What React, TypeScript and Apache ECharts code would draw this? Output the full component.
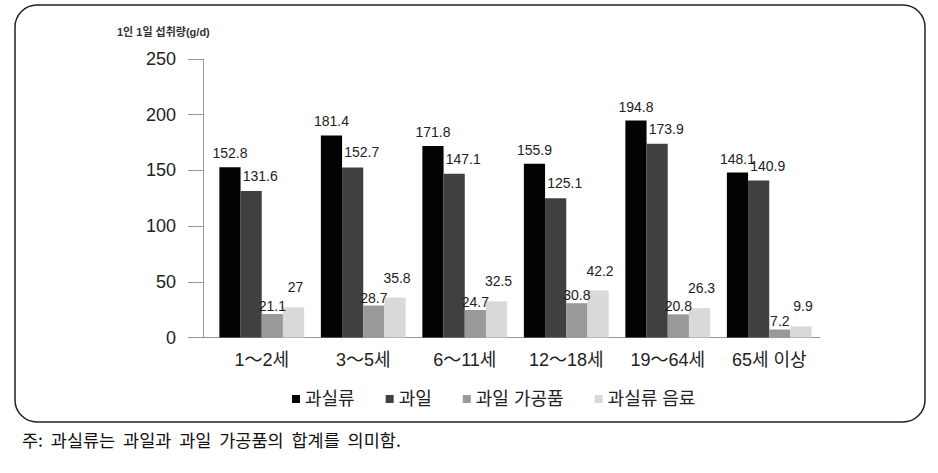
import React, { useEffect, useRef } from "react";
import * as echarts from "echarts";

const categories = ["1～2세", "3～5세", "6～11세", "12～18세", "19～64세", "65세 이상"];
const seriesNames = ["과실류", "과일", "과일 가공품", "과실류 음료"];
const fruitTotal = [152.8, 181.4, 171.8, 155.9, 194.8, 148.1];
const fruit = [131.6, 152.7, 147.1, 125.1, 173.9, 140.9];
const processed = [21.1, 28.7, 24.7, 30.8, 20.8, 7.2];
const beverage = [27, 35.8, 32.5, 42.2, 26.3, 9.9];
const colors = ["#030303", "#404040", "#999999", "#d9d9d9"];
const yTitle = "1인 1일 섭취량(g/d)";
const footnote = "주:  과실류는  과일과  과일  가공품의  합계를  의미함.";

const FONT = "'Liberation Sans', 'Noto Sans CJK KR', sans-serif";
const labelDistance = [7, 8, 1, 13];
const labelOffsetX = [0, 9, 0, 2];

export default function App() {
  const ref = useRef<HTMLDivElement>(null);
  useEffect(() => {
    if (!ref.current) return;
    const chart = echarts.init(ref.current, null, { renderer: "svg" });
    const data = [fruitTotal, fruit, processed, beverage];
    chart.setOption({
      animation: false,
      backgroundColor: "#ffffff",
      textStyle: { fontFamily: FONT },
      grid: { left: 211, right: 118, top: 59, bottom: 135.5 },
      legend: {
        top: 385,
        left: 287,
        itemWidth: 8,
        itemHeight: 8,
        itemGap: 31,
        icon: "rect",
        textStyle: { fontSize: 18, color: "#222", fontFamily: FONT },
        data: seriesNames,
      },
      xAxis: {
        type: "category",
        data: categories,
        axisLine: { lineStyle: { color: "#999", width: 1 } },
        axisTick: { show: false },
        axisLabel: { fontSize: 18, color: "#222", margin: 13, fontFamily: FONT },
      },
      yAxis: {
        type: "value",
        min: 0,
        max: 250,
        interval: 50,
        offset: 8,
        splitLine: { show: false },
        axisLine: { show: true, lineStyle: { color: "#999", width: 1 } },
        axisTick: { show: true, length: 15, lineStyle: { color: "#999" } },
        axisLabel: { fontSize: 18, color: "#222", margin: 27, fontFamily: FONT },
      },
      series: seriesNames.map((name, i) => ({
        name,
        type: "bar",
        data: data[i],
        barGap: "0%",
        barCategoryGap: "16.5%",
        itemStyle: { color: colors[i] },
        label: {
          show: true,
          position: "top",
          distance: labelDistance[i],
          offset: [labelOffsetX[i], 0],
          fontSize: 14,
          color: "#222",
          fontFamily: FONT,
        },
      })),
      graphic: [
        {
          type: "rect",
          shape: { x: 15, y: 5, width: 910, height: 417, r: 22 },
          style: { fill: "none", stroke: "#222", lineWidth: 1.5 },
          silent: true,
        },
        {
          type: "line",
          shape: { x1: 203, y1: 337.5, x2: 211, y2: 337.5 },
          style: { stroke: "#999", lineWidth: 1 },
          silent: true,
        },
        {
          type: "text",
          left: 117,
          top: 26,
          style: {
            text: yTitle,
            fontSize: 11,
            fontWeight: "bold",
            fill: "#333",
            fontFamily: FONT,
          },
        },
        {
          type: "text",
          left: 22,
          top: 431,
          style: {
            text: footnote,
            fontSize: 17.5,
            fill: "#111",
            fontFamily: "'Noto Sans CJK KR', sans-serif",
          },
        },
      ],
    });
    return () => chart.dispose();
  }, []);
  return (
    <div
      ref={ref}
      style={{ position: "fixed", left: 0, top: 0, width: 938, height: 473, background: "#fff" }}
    />
  );
}
